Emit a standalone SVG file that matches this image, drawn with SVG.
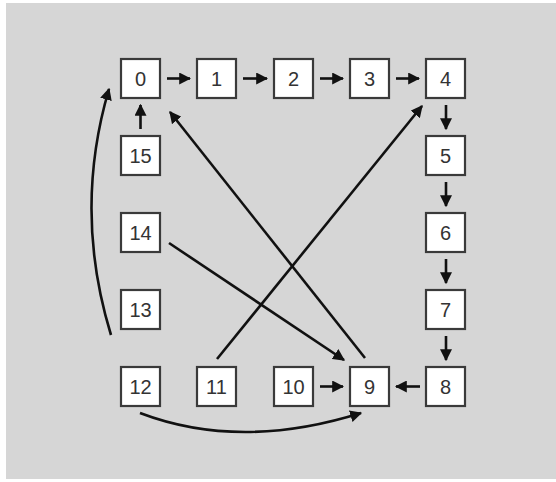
<svg xmlns="http://www.w3.org/2000/svg" width="556" height="482" viewBox="0 0 556 482">
<style>
.box rect{fill:#fff;stroke:#3a3a3a;stroke-width:2.2}
.box text{font-family:"Liberation Sans",Arial,sans-serif;font-size:20px;fill:#333;text-anchor:middle}
.edge{fill:none;stroke:#111;stroke-width:2.6;marker-end:url(#ah)}
</style>
<defs>
<marker id="ah" markerUnits="userSpaceOnUse" viewBox="0 0 10 10" refX="9" refY="5" markerWidth="12" markerHeight="12" orient="auto">
<path d="M0,0 L10,5 L0,10 z" fill="#111"/>
</marker>
</defs>
<rect x="6" y="3" width="550" height="476" fill="#d6d6d6"/>
<g id="connectors">
<line class="edge" x1="167" y1="78.5" x2="190" y2="78.5"/>
<line class="edge" x1="243" y1="78.5" x2="267" y2="78.5"/>
<line class="edge" x1="320" y1="78.5" x2="343" y2="78.5"/>
<line class="edge" x1="396" y1="78.5" x2="419" y2="78.5"/>
<line class="edge" x1="446" y1="105" x2="446" y2="129"/>
<line class="edge" x1="446" y1="182" x2="446" y2="206"/>
<line class="edge" x1="446" y1="259" x2="446" y2="283"/>
<line class="edge" x1="446" y1="336" x2="446" y2="360"/>
<line class="edge" x1="420" y1="386.5" x2="396" y2="386.5"/>
<line class="edge" x1="320" y1="386.5" x2="343" y2="386.5"/>
<line class="edge" x1="140.5" y1="129" x2="140.5" y2="105"/>
<line class="edge" x1="365" y1="358" x2="170" y2="112"/>
<line class="edge" x1="217" y1="359" x2="422" y2="106"/>
<line class="edge" x1="169" y1="243" x2="344" y2="360"/>
<path class="edge" d="M111,335 Q73,211 109,89"/>
<path class="edge" d="M140,413 Q240,451 361,413"/>
</g>
<g id="n0" class="box"><rect x="121" y="59" width="39" height="39"/><text x="140.5" y="85.5">0</text></g>
<g id="n1" class="box"><rect x="197" y="59" width="39" height="39"/><text x="216.5" y="85.5">1</text></g>
<g id="n2" class="box"><rect x="274" y="59" width="39" height="39"/><text x="293.5" y="85.5">2</text></g>
<g id="n3" class="box"><rect x="350" y="59" width="39" height="39"/><text x="369.5" y="85.5">3</text></g>
<g id="n4" class="box"><rect x="426" y="59" width="39" height="39"/><text x="445.5" y="85.5">4</text></g>
<g id="n5" class="box"><rect x="426" y="136" width="39" height="39"/><text x="445.5" y="162.5">5</text></g>
<g id="n6" class="box"><rect x="426" y="213" width="39" height="39"/><text x="445.5" y="239.5">6</text></g>
<g id="n7" class="box"><rect x="426" y="290" width="39" height="39"/><text x="445.5" y="316.5">7</text></g>
<g id="n8" class="box"><rect x="426" y="367" width="39" height="39"/><text x="445.5" y="393.5">8</text></g>
<g id="n9" class="box"><rect x="350" y="367" width="39" height="39"/><text x="369.5" y="393.5">9</text></g>
<g id="n10" class="box"><rect x="274" y="367" width="39" height="39"/><text x="293.5" y="393.5">10</text></g>
<g id="n11" class="box"><rect x="197" y="367" width="39" height="39"/><text x="216.5" y="393.5">11</text></g>
<g id="n12" class="box"><rect x="121" y="367" width="39" height="39"/><text x="140.5" y="393.5">12</text></g>
<g id="n13" class="box"><rect x="121" y="290" width="39" height="39"/><text x="140.5" y="316.5">13</text></g>
<g id="n14" class="box"><rect x="121" y="213" width="39" height="39"/><text x="140.5" y="239.5">14</text></g>
<g id="n15" class="box"><rect x="121" y="136" width="39" height="39"/><text x="140.5" y="162.5">15</text></g>
</svg>
